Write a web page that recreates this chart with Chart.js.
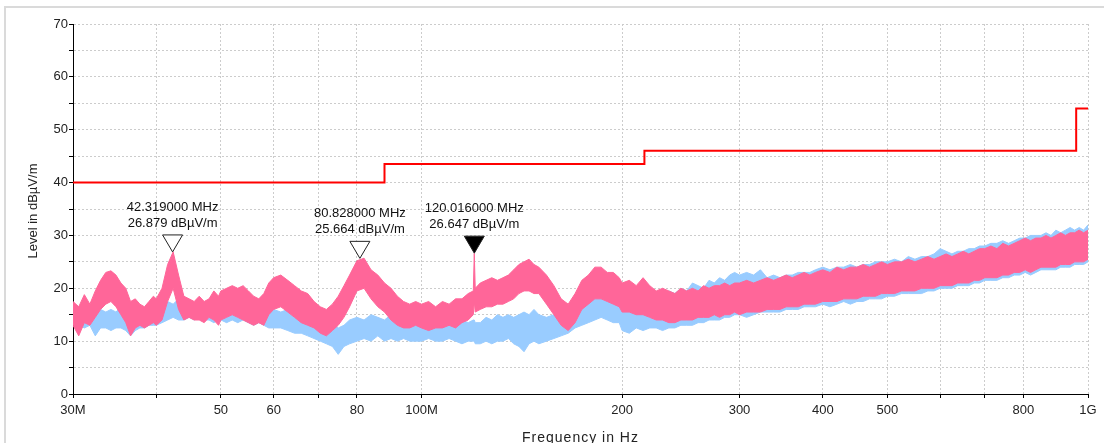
<!DOCTYPE html>
<html>
<head>
<meta charset="utf-8">
<script src="https://cdn.jsdelivr.net/npm/chart.js@4.4.1/dist/chart.umd.min.js"></script>
<style>
  html, body { margin: 0; padding: 0; background: #fff; }
  canvas { display: block; }
</style>
</head>
<body>
<canvas id="c" width="1104" height="443"></canvas>
<script>
const FONT = "'Liberation Sans', Arial, sans-serif";
const PINK = '#ff6699';
const BLUE = '#99ccff';

// sweep frequencies, MHz
const freqMHz = [
    30, 30.6, 31.2, 31.8, 32.4, 33, 33.6, 34.2, 34.8, 35.4, 36, 36.6, 37.2, 37.8, 38.4, 39, 39.6,
    40, 40.8, 41.6, 42.4, 43.2, 44, 44.8, 45.6, 46.4, 47.2, 48, 48.8, 49.6,
    50, 51, 52, 53, 54, 55, 56, 57, 58, 59,
    60, 61.5, 63, 64.5, 66, 67.5, 69, 70.5, 72, 73.5, 75, 76.5, 78,
    80, 82, 84, 86, 88, 90, 92, 94, 96, 98,
    100, 102.5, 105, 107.5, 110, 112.5, 115, 117.5, 119.6, 120, 120.4, 122.5, 125, 127.5, 130, 132.5, 135, 137.5, 140, 142.5, 145, 147.5,
    150, 154, 158, 162, 166, 170, 174, 178, 182, 186, 190, 194, 198,
    200, 205, 210, 215, 220, 225, 230, 235, 240, 245, 250, 255, 260, 265, 270, 275, 280, 285, 290, 295,
    300, 307.5, 315, 322.5, 330, 337.5, 345, 352.5, 360, 367.5, 375, 382.5, 390,
    400, 410, 420, 430, 440, 450, 460, 470, 480, 490,
    500, 512.5, 525, 537.5, 550, 562.5, 575, 587.5, 600, 612.5, 625, 637.5, 650, 662.5, 675, 687.5,
    700, 715, 730, 745, 760, 775, 790, 805, 820, 835, 850, 865, 880, 895, 910, 925, 940, 955, 970, 985, 1000
];

// pink trace, upper and lower edge of the noise band (dBuV/m)
const pinkMax = [
    17.5, 16.5, 18.8, 17, 19.5, 21.5, 23, 23.3, 22.5, 21, 20, 17.5, 18, 17, 16.5, 17.5, 18.5,
    18, 20, 24.5, 26.9, 22.5, 18.5, 18, 17.5, 18.5, 17.5, 18, 19.5, 18.5,
    19.5, 20, 20.5, 20, 20.5, 19.5, 18.5, 18, 19, 21,
    22, 22.5, 21.5, 20.5, 19.5, 19, 17.5, 16.5, 16, 17, 18.5, 20.5, 22.5,
    25.2, 25.7, 23.5, 22.5, 21, 20, 18.5, 17.5, 17, 17.5,
    17, 17.5, 16.5, 17.5, 17, 18, 18, 19, 19.5, 26.6, 20, 21, 21.5, 22, 21.5, 22, 22.5, 23.5, 24.5, 25, 25.5, 24.5,
    24, 22.5, 20.5, 18, 17, 19, 21.5, 22.5, 24, 24, 23, 23, 22,
    21, 21.5, 20.5, 22, 20.5, 19.5, 20, 19.5, 19, 20, 19.5, 20, 19.5, 20.5, 20, 20.5, 20.5, 21, 20.5, 21,
    21, 21.5, 21, 21.5, 22, 21.5, 22, 22.5, 22, 22.5, 23, 22.5, 23,
    23.5, 23, 24, 23.5, 24, 24, 24.5, 24, 24.5, 25,
    24.5, 25, 25, 25.5, 25, 25.5, 26, 25.5, 26, 26.5, 26, 26.5, 27, 26.5, 27, 27.5,
    27.5, 28, 27.5, 28.5, 28, 28.5, 29, 29.5, 29, 29.5, 29.5, 30, 29.5, 30, 30.5, 30, 30.5, 30.5, 31, 30.5, 31
];
const pinkMin = [
    13, 11, 13.5, 13, 14.5, 16, 17, 17.5, 16.5, 15, 13.5, 11, 12.5, 13, 12.5, 13, 13.5,
    13, 14, 17.5, 20, 16, 14, 14.5, 14, 14, 13.5, 14.5, 14, 13,
    14, 14.5, 15, 14.5, 14, 13.5, 13, 13.5, 13, 15,
    16, 16.5, 15.5, 14.5, 13.5, 13, 12.5, 11.5, 11, 12, 13, 14.5, 16.5,
    19.5, 20, 18, 16.5, 15.5, 14, 13, 12.5, 12.5, 13,
    12.5, 12, 12.5, 12.5, 13, 12.5, 13.5, 14, 15, 17.5, 15.5, 16, 16.5, 16.5, 17, 17, 17.5, 18, 19, 19.5, 19.5, 19,
    19, 17, 15, 13, 12, 13.5, 16, 17, 18, 18, 17.5, 17, 16.5,
    15.5, 15.5, 15, 15, 14.5, 14, 14, 13.5, 13.5, 14, 14, 14, 14.5, 14.5, 14.5, 15, 14.5, 15, 15, 15.5,
    15, 15.5, 15.5, 15.5, 16, 16, 16, 16.5, 16.5, 16.5, 17, 17, 17,
    17.5, 17.5, 17.5, 18, 18, 18, 18.5, 18.5, 18.5, 19,
    19, 19, 19.5, 19.5, 19.5, 20, 20, 20, 20.5, 20.5, 20.5, 21, 21, 21, 21.5, 21.5,
    22, 22, 22, 22.5, 22.5, 23, 23, 23.5, 23, 23.5, 24, 24, 24, 24, 24.5, 24.5, 24.5, 25, 25, 25, 25.5
];

// blue trace
const blueMax = [
    17, 16.5, 16, 16.5, 15.5, 16, 15.5, 16, 15.5, 16.5, 16, 15.5, 16, 15.5, 16, 16.5, 17,
    17, 16.5, 17.5, 17, 18, 17, 17.5, 17, 18, 17, 17.5, 16.5, 17,
    17, 16.5, 17, 16.5, 17, 16.5, 16.5, 16, 16.5, 16,
    16, 15.5, 16, 15, 14.5, 15, 14, 13.5, 13, 13.5, 12.5, 13, 14,
    14.5, 14, 15, 14.5, 14, 15, 14.5, 14, 15, 14.5,
    14, 14.5, 14, 13.5, 14, 13.5, 14, 13.5, 14, 14, 13.5, 13.5, 14.5, 14, 15, 14.5, 15, 14.5, 15, 15.5, 15, 16,
    15, 14.5, 15, 15.5, 16, 17, 18, 18.5, 19.5, 19.5, 19, 18.5, 18,
    19, 18.5, 19, 18.5, 19, 19, 18.5, 19.5, 19, 20, 19.5, 21, 20.5, 20, 21.5, 21, 22, 21.5, 22.5, 23,
    22.5, 23, 22.5, 23.5, 22, 22.5, 22, 22.5, 22.5, 23, 23, 23, 23.5,
    24, 23.5, 24, 24, 24.5, 24, 24.5, 24.5, 25, 25,
    25, 25.5, 25, 26, 25.5, 26, 26, 26.5, 27.5, 27, 26.5, 27, 27, 27.5, 27.5, 28,
    28, 28.5, 28.5, 29, 28.5, 29, 29.5, 29.5, 30, 30, 30, 30.5, 30, 31, 30.5, 31, 31.5, 31, 31.5, 31, 32
];
const blueMin = [
    13.5, 13, 12.5, 13, 11, 12.5, 12.5, 12, 12.5, 12.5, 12, 11, 12, 12.5, 12.5, 13, 13,
    13, 13.5, 14, 14.5, 14, 14, 14.5, 14, 14.5, 14, 14, 13.5, 14,
    14, 13.5, 14, 13.5, 14, 13.5, 13, 13.5, 13, 12.5,
    12.5, 12.5, 12, 11.5, 11.5, 11, 10.5, 10, 9.5, 9, 7.5, 9, 9.5,
    10, 10.5, 10, 11, 10, 10.5, 10, 10.5, 10, 10,
    10, 10.5, 10, 10, 10.5, 10, 9.5, 10, 10, 10, 9.5, 9.5, 10, 9.5, 10, 10, 10.5, 9.5, 9, 8, 9.5, 10,
    9.5, 10, 10.5, 11, 11.5, 12.5, 13, 13.5, 14, 14.5, 14, 13.5, 13.5,
    12, 11.5, 12.5, 12, 12.5, 12.5, 12, 12.5, 12.5, 13, 13, 13, 13.5, 13.5, 14, 14, 14, 14.5, 14.5, 15,
    15, 14.5, 15, 15.5, 15.5, 15.5, 15.5, 16, 16, 16, 16.5, 16.5, 16.5,
    17, 16.5, 17, 17.5, 17, 17.5, 17.5, 18, 18, 18,
    18.5, 18.5, 19, 19, 19, 19, 19.5, 19.5, 20, 20, 20, 20.5, 20.5, 20.5, 21, 21,
    21.5, 21.5, 21.5, 22, 22, 22.5, 22.5, 23, 22.5, 23, 23.5, 23.5, 23.5, 23.5, 24, 24, 24, 24.5, 24.5, 24.5, 25
];

// limit line
const limitMHz = [30, 88, 88, 216, 216, 960, 960, 1000];
const limitLevel = [40, 40, 43.5, 43.5, 46, 46, 54, 54];

// markers
const markerMHz = [42.319, 80.828, 120.016];
const markerLevel = [26.879, 25.664, 26.647];
const markerFilled = [false, false, true];

// x axis ticks
const xTicksMHz = [30, 40, 50, 60, 70, 80, 100, 200, 300, 400, 500, 600, 700, 800, 1000];
const xTickLabels = ['30M', '', '50', '60', '', '80', '100M', '200', '300', '400', '500', '', '', '800', '1G'];

const toPoints = (f, v) => f.map((m, i) => ({ x: m * 1e6, y: v[i] }));

const line = (label, data, color, extra) => Object.assign({
    label: label,
    data: data,
    borderColor: color,
    borderWidth: 1,
    pointRadius: 0,
    fill: false
}, extra || {});

const decor = {
    id: 'decor',
    beforeDraw(chart) {
        const ctx = chart.ctx;
        ctx.save();
        ctx.fillStyle = '#fff';
        ctx.fillRect(0, 0, chart.width, chart.height);
        ctx.strokeStyle = '#dadada';
        ctx.lineWidth = 2;
        ctx.beginPath();
        ctx.moveTo(5, chart.height);
        ctx.lineTo(5, 7);
        ctx.lineTo(chart.width, 7);
        ctx.stroke();
        ctx.restore();
    },
    afterDatasetsDraw(chart) {
        const ctx = chart.ctx;
        const xs = chart.scales.x, ys = chart.scales.y;
        ctx.save();
        markerMHz.forEach((m, i) => {
            const x = xs.getPixelForValue(m * 1e6);
            const y = ys.getPixelForValue(markerLevel[i]);
            ctx.beginPath();
            ctx.moveTo(x, y);
            ctx.lineTo(x - 10, y - 17);
            ctx.lineTo(x + 10, y - 17);
            ctx.closePath();
            ctx.fillStyle = markerFilled[i] ? '#000' : '#fff';
            ctx.fill();
            ctx.strokeStyle = '#222';
            ctx.lineWidth = 1;
            ctx.stroke();

            ctx.fillStyle = '#111';
            ctx.font = '13px ' + FONT;
            ctx.textAlign = 'center';
            ctx.textBaseline = 'middle';
            ctx.fillText(m.toFixed(6) + ' MHz', x, y - 45);
            ctx.fillText(markerLevel[i].toFixed(3) + ' dBµV/m', x, y - 29);
        });
        ctx.restore();
    },
    afterDraw(chart) {
        const ctx = chart.ctx;
        const a = chart.chartArea;
        ctx.save();
        ctx.fillStyle = '#222';
        ctx.textAlign = 'center';
        ctx.font = '14px ' + FONT;
        ctx.letterSpacing = '1px';
        ctx.textBaseline = 'alphabetic';
        ctx.fillText('Frequency in Hz', (a.left + a.right) / 2, 442);
        ctx.letterSpacing = '0px';
        ctx.font = '13px ' + FONT;
        ctx.textBaseline = 'middle';
        ctx.translate(33, (a.top + a.bottom) / 2 + 2);
        ctx.rotate(-Math.PI / 2);
        ctx.fillText('Level in dBµV/m', 0, 0);
        ctx.restore();
    }
};

new Chart(document.getElementById('c').getContext('2d'), {
    type: 'line',
    data: {
        datasets: [
            line('Limit', toPoints(limitMHz, limitLevel), '#ff0000', { borderWidth: 2 }),
            line('pink max', toPoints(freqMHz, pinkMax), PINK, { backgroundColor: PINK, fill: '+1' }),
            line('pink min', toPoints(freqMHz, pinkMin), PINK),
            line('blue max', toPoints(freqMHz, blueMax), BLUE, { backgroundColor: BLUE, fill: '+1' }),
            line('blue min', toPoints(freqMHz, blueMin), BLUE)
        ]
    },
    options: {
        responsive: false,
        animation: false,
        devicePixelRatio: 1,
        layout: {
            padding: { left: 0, right: 16, top: 24, bottom: 0 }
        },
        plugins: {
            legend: { display: false },
            tooltip: { enabled: false }
        },
        scales: {
            x: {
                type: 'logarithmic',
                min: 30e6,
                max: 1e9,
                afterBuildTicks: (s) => { s.ticks = xTicksMHz.map((m) => ({ value: m * 1e6 })); },
                afterFit: (s) => { s.height = 49; },
                ticks: {
                    autoSkip: false,
                    maxRotation: 0,
                    minRotation: 0,
                    padding: 5,
                    color: '#222',
                    font: { family: FONT, size: 13 },
                    callback: (v, i) => xTickLabels[i]
                },
                grid: { color: '#cccccc', tickColor: '#000', tickLength: 4, tickBorderDash: [] },
                border: { display: true, color: '#000', width: 1, dash: [2, 2] }
            },
            y: {
                min: 0,
                max: 70,
                afterFit: (s) => { s.width = 73; },
                ticks: {
                    stepSize: 5,
                    padding: 1,
                    color: '#222',
                    font: { family: FONT, size: 13 },
                    callback: (v) => (v % 10 === 0 ? String(v) : '')
                },
                grid: { color: '#cccccc', tickColor: '#000', tickLength: 4, tickBorderDash: [] },
                border: { display: true, color: '#000', width: 1, dash: [2, 2] }
            }
        }
    },
    plugins: [decor]
});
</script>
</body>
</html>
